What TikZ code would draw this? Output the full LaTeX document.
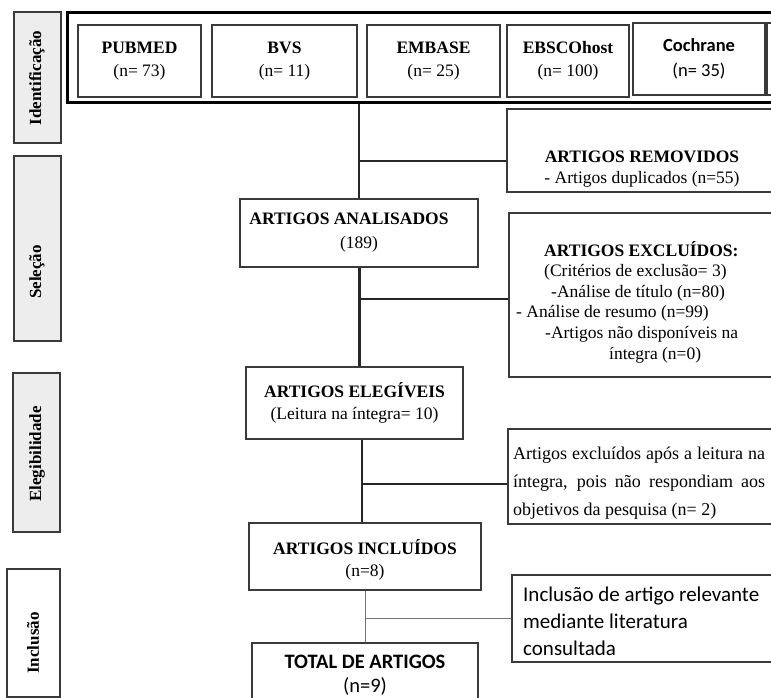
\documentclass[tikz,border=0pt]{standalone}
\usepackage{fontspec}
\setmainfont{Liberation Serif}
\newfontfamily\calfont{Carlito}
\definecolor{bord}{HTML}{3A3A3A}
\definecolor{sidefill}{HTML}{EDEDED}
\begin{document}
\begin{tikzpicture}[x=1pt,y=-1pt,
  box/.style={draw=bord, line width=1.3pt, inner sep=0pt, align=center},
  txt/.style={inner sep=0pt, font=\fontsize{17.5}{21}\selectfont},
  src/.style={box, minimum height=72pt, font=\fontsize{17.5}{23}\selectfont},
  side/.style={draw=bord, line width=1.3pt, fill=sidefill, inner sep=0pt, minimum width=47pt},
  sidetext/.style={rotate=90, inner sep=0pt, font=\bfseries\fontsize{17}{20}\selectfont},
  conn/.style={draw=black!85, line width=1.3pt},
  gconn/.style={draw=black!55, line width=1pt},
]
\useasboundingbox (0,0) rectangle (771,698);
% phase labels
\node[side, minimum height=131pt] (sidA) at (37.5,77.5) {};
\node[sidetext] (sidAt) at (37,78) {Identificação};
\node[side, minimum height=185pt] (sidB) at (37.5,248.5) {};
\node[sidetext] (sidBt) at (37,272) {Seleção};
\node[side, minimum height=159pt] (sidC) at (36.5,452.5) {};
\node[sidetext] (sidCt) at (37,454) {Elegibilidade};
\node[side, fill=white, minimum width=53pt, minimum height=128pt] (sidD) at (33.5,633) {};
\node[sidetext] (sidDt) at (33,643) {Inclusão};
% identification frame
\node[draw=black, line width=3pt, inner sep=0pt, minimum width=733pt, minimum height=90pt] (outer) at (433.5,58) {};
\node[src, minimum width=123pt] (pub) at (139.5,61) {\textbf{PUBMED}\\(n= 73)};
\node[src, minimum width=145pt] (bvs) at (284.5,61) {\textbf{BVS}\\(n= 11)};
\node[src, minimum width=133pt] (emb) at (433.5,61) {\textbf{EMBASE}\\(n= 25)};
\node[src, minimum width=122pt] (ebs) at (568,61) {\textbf{EBSCOhost}\\(n= 100)};
\node[src, minimum width=132pt, font=\calfont\fontsize{18.5}{25}\selectfont] (coc) at (699,59) {\textbf{Cochrane}\\(n= 35)};
\node[src, minimum width=33pt] (ext) at (783.5,59) {};
% main flow boxes
\node[box, minimum width=270pt, minimum height=83pt] (rem) at (642,150.5) {};
\node[txt, align=center] (remt) at (642,169) {\textbf{ARTIGOS REMOVIDOS}\\- Artigos duplicados (n=55)};
\node[box, minimum width=238pt, minimum height=68pt, font=\fontsize{17.5}{24}\selectfont] (ana) at (359,233) {\hspace*{-20pt}\textbf{ARTIGOS ANALISADOS}\\(189)};
\node[box, minimum width=270pt, minimum height=164pt] (exc) at (644,295) {};
\node[txt, align=left, anchor=west, font=\fontsize{17.5}{20.6}\selectfont] (exct) at (516,302) {\hspace*{28pt}\textbf{ARTIGOS EXCLUÍDOS:}\\\hspace*{28pt}(Critérios de exclusão= 3)\\\hspace*{35pt}-Análise de título (n=80)\\- Análise de resumo (n=99)\\\hspace*{29pt}-Artigos não disponíveis na\\\hspace*{93pt}íntegra (n=0)};
\node[box, minimum width=217pt, minimum height=72pt, font=\fontsize{17.5}{22}\selectfont] (ele) at (354.5,403) {\textbf{ARTIGOS ELEGÍVEIS}\\(Leitura na íntegra= 10)};
\node[box, minimum width=270pt, minimum height=95pt] (exc2) at (643,476.5) {};
\node[txt, align=left, anchor=west, font=\fontsize{18}{28}\selectfont] (exc2t) at (513,483) {\makebox[252pt][s]{Artigos excluídos após a leitura na}\\\makebox[252pt][s]{íntegra, pois não respondiam aos}\\objetivos da pesquisa (n= 2)};
\node[box, minimum width=232pt, minimum height=67pt] (inc) at (365,556.5) {};
\node[txt, align=center, font=\fontsize{17.5}{22}\selectfont] (inct) at (365,560) {\textbf{ARTIGOS INCLUÍDOS}\\(n=8)};
\node[box, minimum width=270pt, minimum height=87pt] (incl) at (647,618.5) {};
\node[txt, align=left, anchor=west, font=\calfont\fontsize{21}{27}\selectfont] (inclt) at (523,621) {Inclusão de artigo relevante\\mediante literatura\\consultada};
\node[box, minimum width=226pt, minimum height=77pt] (tot) at (365,681.5) {};
\node[txt, align=center, font=\calfont\fontsize{20.5}{24}\selectfont] (tott) at (365,675) {\textbf{TOTAL DE ARTIGOS}\\(n=9)};
% connectors
\coordinate (vA) at (359,0);
\coordinate (vB) at (362,0);
\coordinate (vC) at (365,0);
\coordinate (j1) at (359,161);
\coordinate (j2) at (359,299);
\coordinate (j3) at (362,484);
\coordinate (j4) at (365,618);
\draw[conn, line width=2.5pt] (outer.south -| vA) -- (ana.north -| vA);
\draw[conn] (j1) -- (j1 -| rem.west);
\draw[conn, line width=3pt] (ana.south -| vA) -- (ele.north -| vA);
\draw[conn] (j2) -- (j2 -| exc.west);
\draw[conn, line width=1.5pt] (ele.south -| vB) -- (inc.north -| vB);
\draw[conn] (j3) -- (j3 -| exc2.west);
\draw[gconn] (inc.south -| vC) -- (tot.north -| vC);
\draw[gconn] (j4) -- (j4 -| incl.west);
\end{tikzpicture}
\end{document}
